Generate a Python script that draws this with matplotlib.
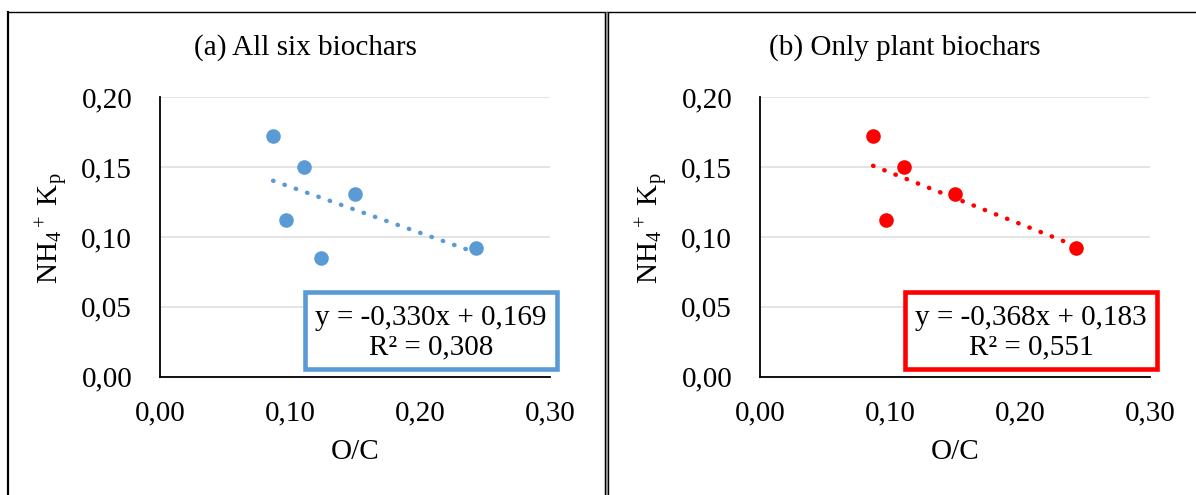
import matplotlib
matplotlib.use("Agg")
import matplotlib.pyplot as plt
from matplotlib.lines import Line2D
from matplotlib.patches import Rectangle
from matplotlib.ticker import FuncFormatter
import numpy as np

plt.rcParams['font.family'] = ['Liberation Serif', 'DejaVu Serif']
plt.rcParams['mathtext.fontset'] = 'custom'
plt.rcParams['mathtext.rm'] = 'Liberation Serif'
plt.rcParams['mathtext.it'] = 'Liberation Serif:italic'

# Data
oc_all = [0.087, 0.111, 0.150, 0.097, 0.124, 0.243]
kp_all = [0.172, 0.150, 0.131, 0.112, 0.085, 0.092]
oc_plant = [0.087, 0.111, 0.150, 0.097, 0.243]
kp_plant = [0.172, 0.150, 0.131, 0.112, 0.092]

titles = ["(a) All six biochars", "(b) Only plant biochars"]
slopes = [-0.330, -0.368]
intercepts = [0.169, 0.183]
r2_values = [0.308, 0.551]
colors = ["#5B9BD5", "#FF0000"]

xticks = [0.00, 0.10, 0.20, 0.30]
yticks = [0.00, 0.05, 0.10, 0.15, 0.20]

W, H = 1196, 495
fig = plt.figure(figsize=(W / 100, H / 100), dpi=100)

fmt = FuncFormatter(lambda v, p: f"{v:.2f}".replace('.', ','))
FS = 21

panels = [(oc_all, kp_all), (oc_plant, kp_plant)]
lefts = [160, 760]
for i, (xs, ys) in enumerate(panels):
    ax = fig.add_axes([lefts[i] / W, 1 - 376.7 / H, 390 / W, 279.4 / H])
    ax.set_xlim(0, 0.30)
    ax.set_ylim(0, 0.20)
    ax.set_xticks(xticks)
    ax.set_yticks(yticks)
    ax.xaxis.set_major_formatter(fmt)
    ax.yaxis.set_major_formatter(fmt)
    ax.tick_params(length=0, labelsize=FS)
    ax.tick_params(axis='y', pad=20)
    ax.tick_params(axis='x', pad=17)
    ax.grid(axis='y', color='#E4E4E4', lw=1.4)
    ax.set_axisbelow(True)
    for s in ['top', 'right']:
        ax.spines[s].set_visible(False)
    for s in ['left', 'bottom']:
        ax.spines[s].set_linewidth(1.3)
        ax.spines[s].set_color('black')

    # trendline
    xl = np.array([min(xs), max(xs)])
    yl = slopes[i] * xl + intercepts[i]
    ax.plot(xl, yl, color=colors[i], lw=3.2, linestyle=(0, (0.1, 2.6)),
            dash_capstyle='round', zorder=2)
    ax.plot(xs, ys, 'o', color=colors[i], markersize=10.5, zorder=3,
            markeredgewidth=0)

    fig.text((lefts[i] + 145) / W, 1 - 48 / H, titles[i], fontsize=FS,
             ha='center', va='center')
    fig.text((lefts[i] + 195) / W, 1 - 452 / H, "O/C", fontsize=FS,
             ha='center', va='center')
    fig.text((lefts[i] - 108) / W, 1 - 228 / H, r"NH$_4$$^+$ K$_\mathrm{p}$",
             fontsize=FS, ha='center', va='center', rotation=90)

    rect = Rectangle((0.372, 0.0276), 0.646, 0.2754, transform=ax.transAxes,
                     fill=True, facecolor='white', edgecolor=colors[i],
                     lw=3.3, clip_on=False, zorder=5)
    ax.add_patch(rect)
    eq = f"y = {slopes[i]:.3f}x + {intercepts[i]:.3f}".replace('.', ',')
    r2 = f"R² = {r2_values[i]:.3f}".replace('.', ',')
    ax.text(0.695, 0.158, eq + "\n" + r2, transform=ax.transAxes,
            ha='center', va='center', fontsize=FS, zorder=6,
            linespacing=1.2)

# borders
def fl(x0, y0, x1, y1, lw, c='black'):
    fig.add_artist(Line2D([x0 / W, x1 / W], [1 - y0 / H, 1 - y1 / H],
                          transform=fig.transFigure, color=c, lw=lw,
                          solid_capstyle='butt'))

fl(7, 11.5, W, 11.5, 1.0)
fl(7.5, 11, 7.5, H, 1.6)
fl(606, 11.5, 606, H, 2.5, '#B0B0B0')
fl(604.5, 11.5, 604.5, H, 1.0)
fl(607.5, 11.5, 607.5, H, 1.0)

fig.savefig("out.png", dpi=100)
